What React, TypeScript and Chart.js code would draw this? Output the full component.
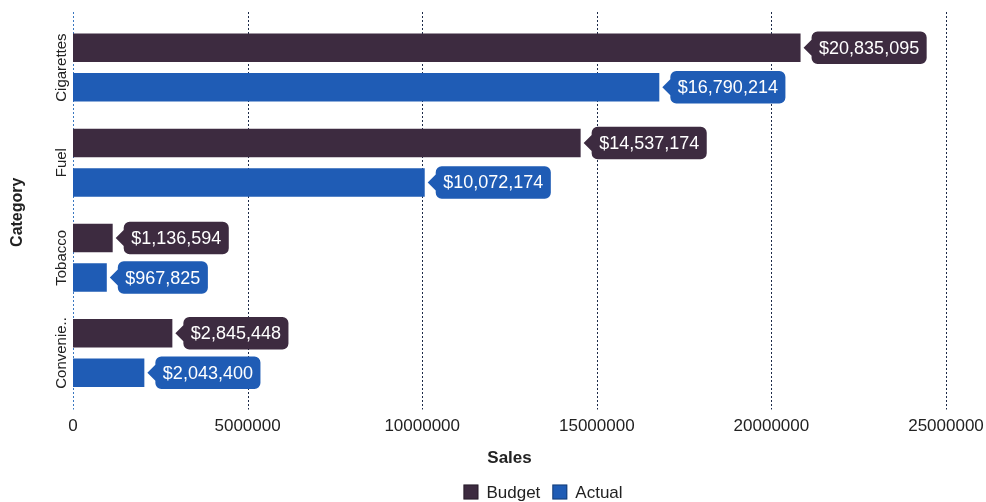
import React, { useEffect, useRef } from "react";
import { Chart, registerables } from "chart.js";

Chart.register(...registerables);

const categories = ["Cigarettes", "Fuel", "Tobacco", "Convenience"];
const budgetValues = [20835095, 14537174, 1136594, 2845448];
const actualValues = [16790214, 10072174, 967825, 2043400];
const seriesNames = ["Budget", "Actual"];
const seriesColors = ["#3d2b40", "#1f5cb5"];
const xMin = 0;
const xMax = 25000000;
const xStep = 5000000;
const xTitle = "Sales";
const yTitle = "Category";

const FONT = "'Liberation Sans', Arial, Helvetica, sans-serif";
const TEXT = "#222222";

const fmtMoney = (v: number) => "$" + v.toLocaleString("en-US");

function truncate(ctx: CanvasRenderingContext2D, s: string, maxW: number) {
  if (ctx.measureText(s).width <= maxW) return s;
  let t = s;
  while (t.length > 1 && ctx.measureText(t + "..").width > maxW) t = t.slice(0, -1);
  return t + "..";
}

function drawCallout(
  ctx: CanvasRenderingContext2D,
  xEnd: number,
  yc: number,
  barH: number,
  text: string,
  color: string
) {
  ctx.font = `18px ${FONT}`;
  const tw = ctx.measureText(text).width;
  const tip = xEnd + 3;
  const bx = xEnd + 11;
  const bw = tw + 15;
  const bh = barH + 4;
  const top = yc - bh / 2;
  const bot = yc + bh / 2;
  const r = 6;
  ctx.beginPath();
  ctx.moveTo(tip, yc);
  ctx.lineTo(bx, yc - 8);
  ctx.lineTo(bx, top + r);
  ctx.arcTo(bx, top, bx + r, top, r);
  ctx.lineTo(bx + bw - r, top);
  ctx.arcTo(bx + bw, top, bx + bw, top + r, r);
  ctx.lineTo(bx + bw, bot - r);
  ctx.arcTo(bx + bw, bot, bx + bw - r, bot, r);
  ctx.lineTo(bx + r, bot);
  ctx.arcTo(bx, bot, bx, bot - r, r);
  ctx.lineTo(bx, yc + 8);
  ctx.closePath();
  ctx.fillStyle = color;
  ctx.fill();
  ctx.fillStyle = "#ffffff";
  ctx.textAlign = "center";
  ctx.textBaseline = "middle";
  ctx.fillText(text, bx + bw / 2, yc + 1);
}

const decorPlugin = {
  id: "decor",
  beforeDatasetsDraw(chart: any) {
    const { ctx, chartArea, scales } = chart;
    const xs = scales.x;
    ctx.save();
    ctx.lineWidth = 1;
    ctx.setLineDash([2, 2]);
    xs.ticks.forEach((t: any, i: number) => {
      const px = Math.round(xs.getPixelForValue(t.value)) + 0.5;
      ctx.strokeStyle = i === 0 ? "#3a78c0" : "#1c2a48";
      ctx.beginPath();
      ctx.moveTo(px, chartArea.top - 8);
      ctx.lineTo(px, chartArea.bottom + 9);
      ctx.stroke();
    });
    ctx.restore();
  },
  afterDatasetsDraw(chart: any) {
    const { ctx } = chart;
    ctx.save();
    chart.data.datasets.forEach((ds: any, di: number) => {
      const meta = chart.getDatasetMeta(di);
      meta.data.forEach((bar: any, i: number) => {
        const p = bar.getProps(["x", "y", "height"], true);
        drawCallout(ctx, p.x, p.y, p.height, fmtMoney(ds.data[i]), ds.backgroundColor);
      });
    });
    ctx.restore();
  },
  afterDraw(chart: any) {
    const { ctx, chartArea, scales } = chart;
    const ys = scales.y;
    ctx.save();
    ctx.font = `15px ${FONT}`;
    ctx.fillStyle = TEXT;
    ctx.textAlign = "center";
    ctx.textBaseline = "middle";
    chart.data.labels.forEach((lab: string, i: number) => {
      const py = ys.getPixelForValue(i);
      const s = truncate(ctx, lab, 75);
      ctx.save();
      ctx.translate(chartArea.left - 11, py);
      ctx.rotate(-Math.PI / 2);
      ctx.fillText(s, 0, 0);
      ctx.restore();
    });
    ctx.font = `bold 16px ${FONT}`;
    ctx.save();
    ctx.translate(18, (chartArea.top + chartArea.bottom) / 2 + 2);
    ctx.rotate(-Math.PI / 2);
    ctx.fillText(yTitle, 0, 0);
    ctx.restore();
    ctx.font = `bold 17px ${FONT}`;
    ctx.fillText(xTitle, (chartArea.left + chartArea.right) / 2, 458);
    ctx.font = `17px ${FONT}`;
    const box = 15;
    const gapIn = 8;
    const gapOut = 12;
    const items = chart.data.datasets.map((d: any) => ({
      label: d.label,
      color: d.backgroundColor,
      w: ctx.measureText(d.label).width,
    }));
    const total =
      items.reduce((a: number, it: any) => a + box + gapIn + it.w, 0) + gapOut * (items.length - 1);
    let lx = 543 - total / 2;
    const ly = 492;
    ctx.textAlign = "left";
    items.forEach((it: any) => {
      ctx.fillStyle = it.color;
      ctx.fillRect(lx, ly - box / 2, box, box);
      ctx.strokeStyle = "rgba(0,0,0,0.35)";
      ctx.lineWidth = 1;
      ctx.strokeRect(lx + 0.5, ly - box / 2 + 0.5, box - 1, box - 1);
      ctx.fillStyle = TEXT;
      ctx.fillText(it.label, lx + box + gapIn, ly + 1);
      lx += box + gapIn + it.w + gapOut;
    });
    ctx.restore();
  },
};

export default function App() {
  const ref = useRef<HTMLCanvasElement | null>(null);
  useEffect(() => {
    if (!ref.current) return;
    const chart = new Chart(ref.current, {
      type: "bar",
      data: {
        labels: categories,
        datasets: [
          {
            label: seriesNames[0],
            data: budgetValues,
            backgroundColor: seriesColors[0],
            categoryPercentage: 0.83,
            barPercentage: 0.72,
          },
          {
            label: seriesNames[1],
            data: actualValues,
            backgroundColor: seriesColors[1],
            categoryPercentage: 0.83,
            barPercentage: 0.72,
          },
        ],
      },
      options: {
        indexAxis: "y",
        animation: false,
        responsive: true,
        maintainAspectRatio: false,
        layout: { padding: { top: 20, right: 40, bottom: 0, left: 0 } },
        plugins: {
          legend: { display: false },
          tooltip: { enabled: false },
        },
        scales: {
          x: {
            type: "linear",
            min: xMin,
            max: xMax,
            grid: { display: false },
            border: { display: false },
            ticks: {
              stepSize: xStep,
              autoSkip: false,
              maxRotation: 0,
              padding: 8,
              color: TEXT,
              font: { family: FONT, size: 17 },
              callback: (v: any) => String(v),
            },
            afterFit: (s: any) => {
              s.height = 101.5;
              s.paddingLeft = 0;
              s.paddingRight = 0;
            },
          },
          y: {
            type: "category",
            offset: true,
            grid: { display: false },
            border: { display: false },
            ticks: { display: false },
            afterFit: (s: any) => {
              s.width = 73;
              s.paddingTop = 0;
              s.paddingBottom = 0;
            },
          },
        },
      },
      plugins: [decorPlugin],
    } as any);
    return () => chart.destroy();
  }, []);
  return (
    <div style={{ position: "fixed", left: 0, top: 0, width: 986, height: 502, background: "#fff" }}>
      <canvas ref={ref} />
    </div>
  );
}
